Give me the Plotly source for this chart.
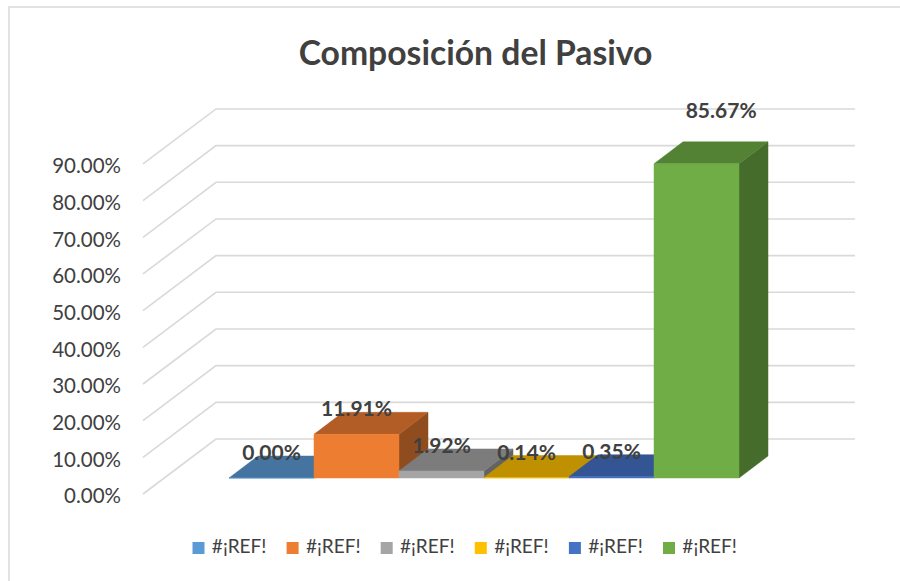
import plotly.graph_objects as go

# ---- data ----
categories = ["#¡REF!", "#¡REF!", "#¡REF!", "#¡REF!", "#¡REF!", "#¡REF!"]
values = [0.00, 11.91, 1.92, 0.14, 0.35, 85.67]
labels = ["0.00%", "11.91%", "1.92%", "0.14%", "0.35%", "85.67%"]
tick_values = [0, 10, 20, 30, 40, 50, 60, 70, 80, 90]
tick_labels = ["0.00%", "10.00%", "20.00%", "30.00%", "40.00%", "50.00%",
               "60.00%", "70.00%", "80.00%", "90.00%"]
front_colors = ["#5B9BD5", "#ED7D31", "#A5A5A5", "#FFC000", "#4472C4", "#70AD47"]
top_colors = ["#44749F", "#B25D25", "#7C7C7C", "#BF9000", "#335593", "#548235"]
side_colors = ["#3A6288", "#8F4C1E", "#636363", "#9A7400", "#294477", "#466C2C"]

# ---- geometry in axis units ----
W, H = 900, 581
L = 122
PX_X = 85.0            # pixels per category
PX_Y = 3.667           # pixels per percentage point
CENTER0 = 271.5        # pixel of the first category
ZERO_PX = 494          # pixel of 0 on the front of the floor
X_RANGE = [(L - CENTER0) / PX_X, (W - CENTER0) / PX_X]
Y_RANGE = [(ZERO_PX - H) / PX_Y, ZERO_PX / PX_Y]
WALL_DX, WALL_DY = 73 / PX_X, 55 / PX_Y      # depth of the whole floor
BAR_DX, BAR_DY = 29 / PX_X, 22 / PX_Y        # depth of one bar
BASE_Y = 16 / PX_Y                           # bar front sits inside the floor
WALL_LEFT = (143 - CENTER0) / PX_X
WALL_RIGHT = (855 - CENTER0) / PX_X
LABEL_LIFT = 6.3
LAST_LABEL_DX, LAST_LABEL_DY = 0.29, 7.6     # the last label was moved by hand
TICK_NUDGE = -0.6                            # optical centring of the tick labels
LEGEND_X0 = (198.5 - CENTER0) / PX_X
LEGEND_STEP = 94.1 / PX_X
LEGEND_Y = (ZERO_PX - 548) / PX_Y
GRID = "#D9D9D9"
TEXT = "#404040"
FONT = "Lato"

fig = go.Figure()

# walls: gridlines run along the left wall then along the back wall
for v in tick_values:
    fig.add_trace(go.Scatter(
        x=[WALL_LEFT, WALL_LEFT + WALL_DX, WALL_RIGHT],
        y=[v, v + WALL_DY, v + WALL_DY],
        mode="lines", line=dict(color=GRID, width=1.6),
        showlegend=False, hoverinfo="skip"))


def poly(xs, ys, color):
    fig.add_trace(go.Scatter(
        x=xs, y=ys, mode="lines", fill="toself", fillcolor=color,
        line=dict(color=color, width=0.5), showlegend=False, hoverinfo="skip"))


for k, v in enumerate(values):
    x0, x1 = k - 0.5, k + 0.5
    b, t = BASE_Y, BASE_Y + v
    # side
    poly([x1, x1 + BAR_DX, x1 + BAR_DX, x1, x1],
         [b, b + BAR_DY, t + BAR_DY, t, b], side_colors[k])
    # top
    poly([x0, x1, x1 + BAR_DX, x0 + BAR_DX, x0],
         [t, t, t + BAR_DY, t + BAR_DY, t], top_colors[k])
    # front
    poly([x0, x1, x1, x0, x0], [b, b, t, t, b], front_colors[k])

# data labels
label_x = list(range(len(values)))
label_y = [BASE_Y + v + LABEL_LIFT for v in values]
label_x[-1] += LAST_LABEL_DX
label_y[-1] += LAST_LABEL_DY
fig.add_trace(go.Scatter(
    x=label_x, y=label_y, mode="text", text=labels, textposition="middle center",
    textfont=dict(family=FONT, size=21, color=TEXT, weight="bold"),
    showlegend=False, hoverinfo="skip"))

# legend row, placed to match the original's tight swatch-to-text gap
for k, (name, color) in enumerate(zip(categories, front_colors)):
    fig.add_trace(go.Scatter(
        x=[LEGEND_X0 + k * LEGEND_STEP], y=[LEGEND_Y], mode="markers+text", name=name,
        text=[" " + name], textposition="middle right",
        textfont=dict(family=FONT, size=19, color=TEXT),
        marker=dict(symbol="square", size=12, color=color),
        showlegend=False))

fig.update_layout(
    width=W, height=H,
    margin=dict(l=L, r=0, t=0, b=0, pad=0),
    paper_bgcolor="white", plot_bgcolor="white",
    showlegend=False,
    title=dict(text="<b>Composición del Pasivo</b>", x=475.5 / W, xanchor="center",
               y=1 - 53 / H, yanchor="middle",
               font=dict(family=FONT, size=33.7, color=TEXT)),
    xaxis=dict(range=X_RANGE, visible=False, fixedrange=True),
    yaxis=dict(range=Y_RANGE, tickmode="array",
               tickvals=[v + TICK_NUDGE for v in tick_values], ticktext=tick_labels,
               showgrid=False, zeroline=False, showline=False, ticks="",
               tickfont=dict(family=FONT, size=20.5, color=TEXT), fixedrange=True),
    shapes=[dict(type="rect", xref="x domain", yref="y domain",
                 x0=(9 - L) / (W - L), x1=1.02, y0=-0.02, y1=1 - 7 / H,
                 line=dict(color=GRID, width=1.5), fillcolor="rgba(0,0,0,0)", layer="below")],
)

fig.write_html("out.html", config={"displayModeBar": False},
               post_script="document.body.style.margin='0';document.documentElement.style.overflow='hidden';")
